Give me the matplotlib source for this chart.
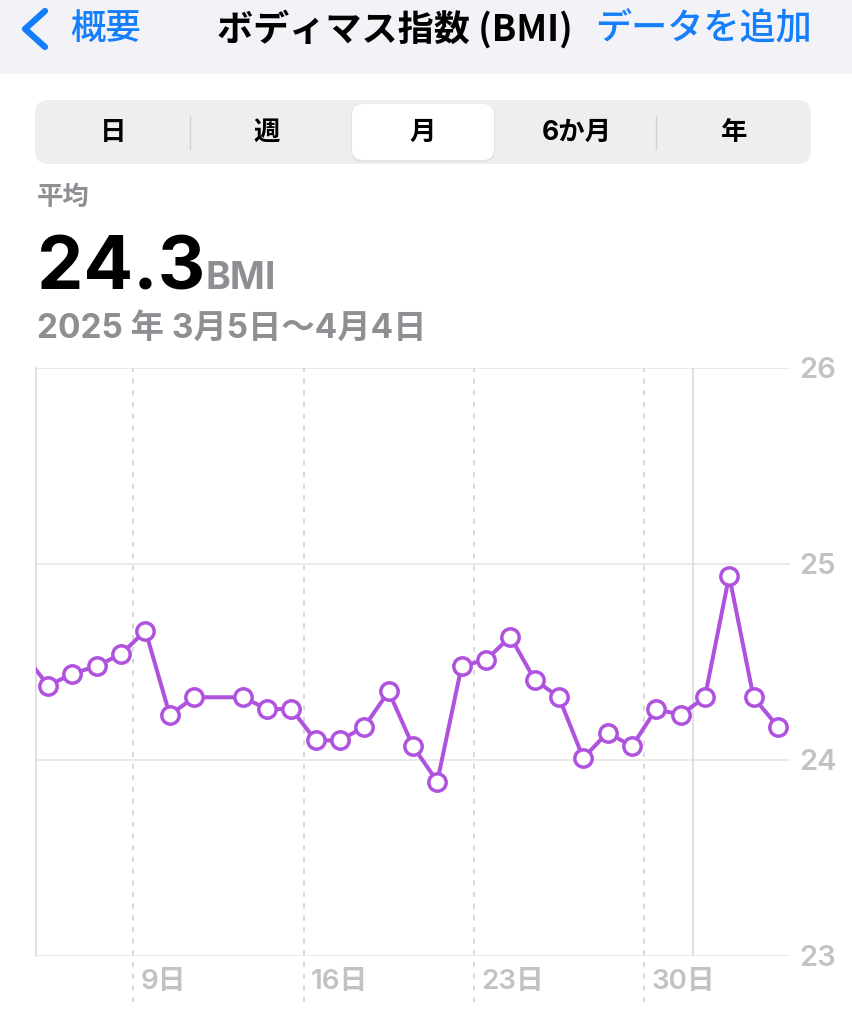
import matplotlib

matplotlib.use("Agg")
import matplotlib.pyplot as plt
import pandas as pd
from matplotlib.patches import FancyBboxPatch, Rectangle
from matplotlib.transforms import ScaledTranslation

JP = ["Noto Sans CJK JP", "DejaVu Sans"]
NUM = ["Inter", "Noto Sans CJK JP", "DejaVu Sans"]

# daily BMI readings (Mar 12 has no entry; Mar 4 sits just left of the window)
DATES = ["2025-03-04", "2025-03-05", "2025-03-06", "2025-03-07", "2025-03-08",
         "2025-03-09", "2025-03-10", "2025-03-11", "2025-03-13", "2025-03-14",
         "2025-03-15", "2025-03-16", "2025-03-17", "2025-03-18", "2025-03-19",
         "2025-03-20", "2025-03-21", "2025-03-22", "2025-03-23", "2025-03-24",
         "2025-03-25", "2025-03-26", "2025-03-27", "2025-03-28", "2025-03-29",
         "2025-03-30", "2025-03-31", "2025-04-01", "2025-04-02", "2025-04-03",
         "2025-04-04"]
BMI = [24.54, 24.38, 24.44, 24.48, 24.54,
       24.66, 24.23, 24.32, 24.32, 24.26,
       24.26, 24.10, 24.10, 24.17, 24.35,
       24.07, 23.89, 24.48, 24.51, 24.63,
       24.41, 24.32, 24.01, 24.14, 24.07,
       24.26, 24.23, 24.32, 24.94, 24.32,
       24.17]
WEEK_TICKS = ["2025-03-09", "2025-03-16", "2025-03-23", "2025-03-30"]
MONTH_START = "2025-04-01"
Y_TICKS = [23, 24, 25, 26]
SEGMENTS = ["日", "週", "月", "6か月", "年"]

PURPLE = "#AF52DE"
BLUE = "#157EFB"
GRAY = "#8E8E93"
LIGHT = "#C2C2C6"

fig = plt.figure(figsize=(8.52, 10.24), dpi=100, facecolor="white")

# screen chrome drawn in pixel coordinates
bg = fig.add_axes([0, 0, 1, 1], zorder=0)
bg.set_xlim(0, 852); bg.set_ylim(1024, 0); bg.axis("off")
bg.add_patch(Rectangle((0, 0), 852, 74, color="#F2F2F7", lw=0))
bg.plot([45, 25, 45], [11, 29, 47], color=BLUE, lw=4.5,
        solid_capstyle="round", solid_joinstyle="round")
bg.text(70, 29, "概要", color=BLUE, fontsize=25.5, family=JP, weight="medium", va="center")
bg.text(395, 29, "ボディマス指数 (BMI)", color="black", fontsize=26,
        family=JP, weight="bold", va="center", ha="center")
bg.text(812, 29, "データを追加", color=BLUE, fontsize=26, family=JP, weight="medium",
        va="center", ha="right")

bg.add_patch(FancyBboxPatch((35, 100), 776, 64, boxstyle="round,pad=0,rounding_size=14",
                            fc="#EEEEEF", ec="none"))
bg.add_patch(FancyBboxPatch((351, 104), 144, 58, boxstyle="round,pad=0,rounding_size=11",
                            fc="#DCDCE0", ec="none", alpha=0.6))
bg.add_patch(FancyBboxPatch((352, 104), 142, 56, boxstyle="round,pad=0,rounding_size=11",
                            fc="white", ec="none"))
for sx in (190, 656):
    bg.plot([sx, sx], [116, 149], color="#D1D1D6", lw=1)
for x, s in zip([113, 267, 423, 577, 734], SEGMENTS):
    bg.text(x, 133, s, fontsize=19, family=NUM, weight="bold", ha="center", va="center")

bg.text(37, 197, "平均", color=GRAY, fontsize=19, family=JP, weight="bold", va="center")
bg.text(37, 289, "24.3", color="black", fontsize=53, family=NUM, weight="bold", va="baseline")
bg.text(206, 289, "BMI", color=GRAY, fontsize=27, family=NUM, weight="bold", va="baseline")
bg.text(37, 329, "2025 年 3月5日〜4月4日", color=GRAY, fontsize=24, family=NUM,
        weight="bold", va="center")

# chart
ax = fig.add_axes([36 / 852, 68 / 1024, 754 / 852, 588 / 1024], zorder=1)
ax.set_facecolor("none")
x = pd.to_datetime(DATES) + pd.Timedelta(hours=12)
ax.set_xlim(pd.Timestamp("2025-03-05"), pd.Timestamp("2025-04-05"))
ax.set_ylim(Y_TICKS[0], Y_TICKS[-1])

for yv in Y_TICKS:
    ax.axhline(yv, color="#E6E6E8", lw=1.2, zorder=1)
ax.axvline(pd.Timestamp(MONTH_START), color="#DADADD", lw=1.2, zorder=1)
weeks = pd.to_datetime(WEEK_TICKS)
ax.vlines(weeks, -0.078, 1, transform=ax.get_xaxis_transform(), color="#D2D2D6",
          lw=1.2, linestyles=(0, (3, 4)), clip_on=False, zorder=1)

ax.plot(x, BMI, color=PURPLE, lw=2.9, marker="o", markersize=12.5,
        markerfacecolor="white", markeredgecolor=PURPLE, markeredgewidth=2.5, zorder=3)

for side in ("top", "right", "bottom"):
    ax.spines[side].set_visible(False)
ax.spines["left"].set_color("#DADADD")
ax.spines["left"].set_linewidth(1.2)

# week labels sit just right of their dashed line
ax.set_xticks([])
shift = ax.get_xaxis_transform() + ScaledTranslation(0.07, -0.26, fig.dpi_scale_trans)
for d in weeks:
    ax.text(d, 0, f"{d.day}日", transform=shift, family=NUM, fontsize=20,
            weight="semibold", color=LIGHT, ha="left", va="center")

ax.yaxis.tick_right()
ax.set_yticks(Y_TICKS)
ax.set_yticklabels([str(v) for v in Y_TICKS], family=NUM, fontsize=21,
                   color=LIGHT, weight="semibold")
ax.tick_params(axis="y", length=0, pad=7)

fig.savefig("out.png", dpi=100, facecolor="white")
